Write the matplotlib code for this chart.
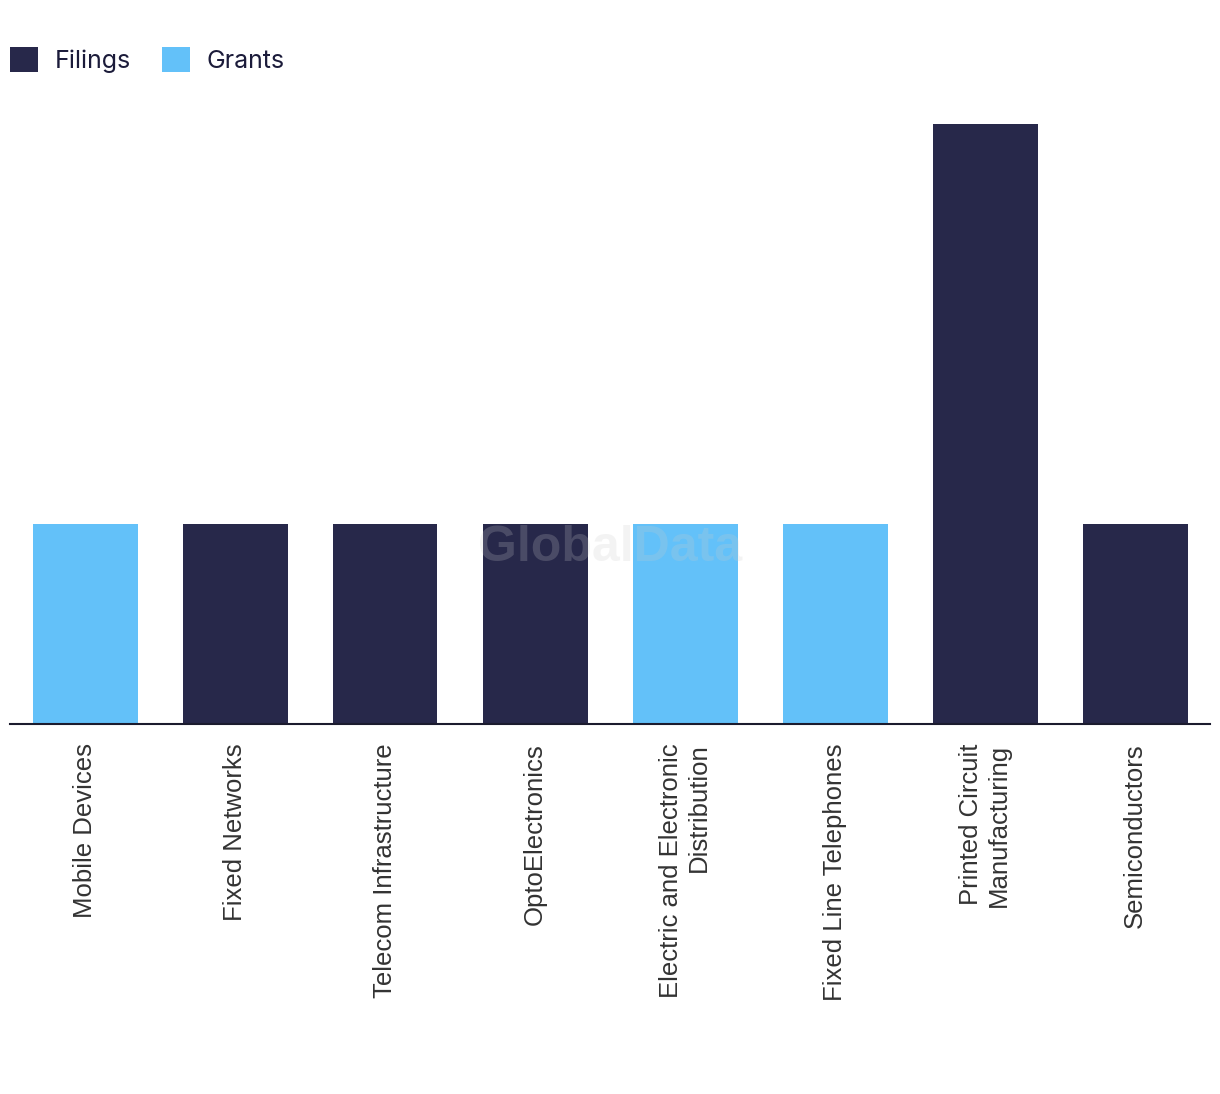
import matplotlib
matplotlib.use("Agg")
import matplotlib.pyplot as plt
from matplotlib.patches import Patch

categories = ["Mobile Devices", "Fixed Networks", "Telecom Infrastructure", "OptoElectronics",
              "Electric and Electronic\nDistribution", "Fixed Line Telephones",
              "Printed Circuit\nManufacturing", "Semiconductors"]
values = [1, 1, 1, 1, 1, 1, 3, 1]
series = ["Grants", "Filings", "Filings", "Filings", "Grants", "Grants", "Filings", "Filings"]
legend_labels = ["Filings", "Grants"]
colors = {"Filings": "#27284a", "Grants": "#63c1f9"}

W, H = 1220, 1094
fig = plt.figure(figsize=(W / 100, H / 100), dpi=100)
ax = fig.add_axes([10 / W, (H - 724) / H, 1200 / W, 600 / H])

x = list(range(len(categories)))
ax.bar(x, values, width=0.7, color=[colors[s] for s in series], zorder=2)
ax.set_xlim(-0.5, len(categories) - 0.5)
ax.set_ylim(0, 3)
for s in ["top", "right", "left"]:
    ax.spines[s].set_visible(False)
ax.spines["bottom"].set_color("#1b1b2e")
ax.spines["bottom"].set_linewidth(1.5)
ax.set_yticks([])
ax.set_xticks(x)
ax.set_xticklabels(categories, rotation=90, fontsize=18.5, family="Liberation Sans",
                   color="#333333", va="top", ha="center", multialignment="right")
ax.tick_params(axis="x", length=0, pad=14)

fig.text(610 / W, 1 - 548 / H, "GlobalData", fontsize=36, fontweight="bold",
         family="Liberation Sans", color="#cbcbcb", alpha=0.22, ha="center", va="center",
         zorder=10)

handles = [Patch(facecolor=colors[l], edgecolor="none") for l in legend_labels]
fig.legend(handles, legend_labels, loc="center left", bbox_to_anchor=(10 / W, 1 - 60 / H),
           ncol=2, frameon=False, prop={"family": "Inter", "size": 18},
           handlelength=1.12, handleheight=1.12, handletextpad=0.68, columnspacing=1.22,
           borderpad=0, borderaxespad=0, labelcolor="#1b1b3a")

fig.savefig("out.png", dpi=100)
